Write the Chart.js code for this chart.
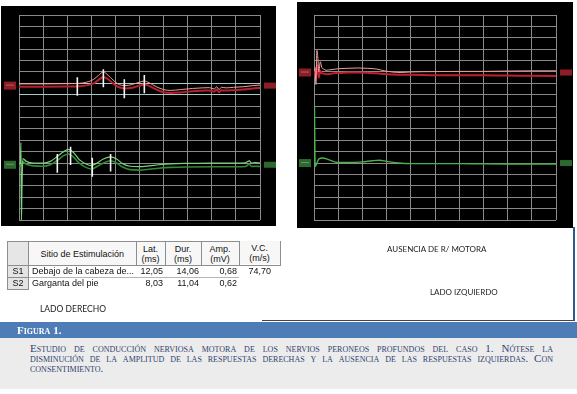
<!DOCTYPE html>
<html lang="es">
<head>
    <meta charset="UTF-8">
    <title>Figura 1 - conducción nerviosa motora</title>
    <script src="https://cdn.jsdelivr.net/npm/chart.js"></script>
    <style>
        body { margin: 0; width: 577px; height: 394px; position: relative; overflow: hidden; background: #fff; font-family: "Liberation Sans", Arial, sans-serif; }
        .scope { position: absolute; background: #000; }
        .scope canvas { background: #000; }
        .lbl { position: absolute; font-family: Lato, "Open Sans", sans-serif; font-size: 8.5px; color: #222; white-space: nowrap; }

        /* tabla de estimulacion */
        #tbl { position: absolute; left: 7px; top: 241px; border-collapse: collapse; font-size: 9px; color: #111; table-layout: fixed; }
        #tbl th { font-weight: normal; background: #f7f7f7; border: 1px solid #8e8e8e; height: 23px; line-height: 10px; padding: 0; text-align: center; }
        #tbl th.corner { background: #e6e6e6; }
        #tbl th.vc { border-top: 1px solid #8e8e8e; position: relative; top: -1px; }
        #tbl td { height: 11px; line-height: 11px; padding: 0 2px; text-align: right; white-space: nowrap; overflow: hidden; }
        #tbl td.sx { background: #e4e4e4; border: 1px solid #8e8e8e; text-align: center; padding: 0; }
        #tbl td.site { text-align: left; padding-left: 3px; }
        #tbl tr.r1 td.ln { border-bottom: 1px solid #b5b5b5; }

        #box { position: absolute; left: 262px; top: 227px; width: 311px; height: 93px; border-right: 2px solid #2c5a8e; border-bottom: 1px solid #444; }
        #capBar { position: absolute; left: 0; top: 322px; width: 577px; height: 16px; background: #4d7cb6; }
        #capBar span { position: absolute; left: 17px; top: 0; line-height: 16px; font-family: "Liberation Serif", serif; font-weight: bold; font-variant: small-caps; font-size: 11px; color: #fff; }
        #capBody { position: absolute; left: 0; top: 338px; width: 577px; height: 51px; background: #ececec; }
        #capBody div { position: absolute; left: 30px; width: 523px; font-family: "Liberation Serif", serif; font-variant: small-caps; font-size: 11px; line-height: 10px; color: #2f4370; white-space: nowrap; }
        #capBody div.j { text-align: justify; text-align-last: justify; white-space: normal; }
    </style>
</head>
<body>

    <!-- Oscilloscope panels -->
    <div class="scope" style="left:1px; top:6px; width:275px; height:220px;"><canvas id="rightSide"></canvas></div>
    <div class="scope" style="left:297px; top:2px; width:276px; height:226px;"><canvas id="leftSide"></canvas></div>

    <div id="box"></div>

    <!-- Stimulation table -->
    <table id="tbl">
        <colgroup>
            <col style="width:21px"><col style="width:106px"><col style="width:29px"><col style="width:36px"><col style="width:38px"><col style="width:41px">
        </colgroup>
        <tr>
            <th class="corner"></th>
            <th>Sitio de Estimulación</th>
            <th>Lat.<br>(ms)</th>
            <th>Dur.<br>(ms)</th>
            <th>Amp.<br>(mV)</th>
            <th class="vc">V.C.<br>(m/s)</th>
        </tr>
        <tr class="r1">
            <td class="sx">S1</td>
            <td class="site ln">Debajo de la cabeza de...</td>
            <td class="ln">12,05</td>
            <td class="ln">14,06</td>
            <td class="ln">0,68</td>
            <td style="padding-right:9px; line-height:9px;">74,70</td>
        </tr>
        <tr>
            <td class="sx">S2</td>
            <td class="site">Garganta del pie</td>
            <td>8,03</td>
            <td>11,04</td>
            <td>0,62</td>
            <td></td>
        </tr>
    </table>

    <div class="lbl" style="left:40px; top:304px;">LADO DERECHO</div>
    <div class="lbl" style="left:387px; top:244px; font-size:8px;">AUSENCIA DE R/ MOTORA</div>
    <div class="lbl" style="left:430px; top:287px; font-size:8px;">LADO IZQUIERDO</div>

    <!-- Caption -->
    <div id="capBar"><span>Figura 1.</span></div>
    <div id="capBody">
        <div class="j" style="top:5px;">Estudio de conducción nerviosa motora de los nervios peroneos profundos del caso 1. Nótese la</div>
        <div class="j" style="top:15px;">disminución de la amplitud de las respuestas derechas y la ausencia de las respuestas izquierdas. Con</div>
        <div style="top:25px;">consentimiento.</div>
    </div>

    <script>
        // grid: 10 horizontal divisions, 18 vertical divisions
        const xDivs = 10;
        const yDivs = 18;

        // ---- Right side (lado derecho) traces ----
        const derRedX = [0, 1, 2, 2.5, 2.8, 3.1, 3.3, 3.5, 3.7, 3.9, 4.1, 4.4, 4.7, 5.0, 5.2, 5.4, 5.7, 6.0, 6.3, 6.7, 7.2, 7.6, 7.9, 8.1, 8.2, 8.3, 8.4, 8.6, 8.9, 9.3, 9.7, 10];
        const derRedA = [11.95, 11.95, 11.97, 12.0, 12.1, 12.35, 12.7, 13.0, 12.7, 12.3, 11.95, 11.8, 11.9, 12.1, 12.2, 12.05, 11.7, 11.45, 11.38, 11.45, 11.55, 11.6, 11.62, 11.5, 11.7, 11.45, 11.65, 11.6, 11.65, 11.7, 11.8, 11.85];
        const derRedB = [11.7, 11.7, 11.72, 11.75, 11.82, 12.0, 12.3, 12.55, 12.35, 12.0, 11.7, 11.55, 11.62, 11.8, 11.9, 11.78, 11.45, 11.22, 11.15, 11.2, 11.3, 11.35, 11.38, 11.28, 11.45, 11.22, 11.4, 11.36, 11.4, 11.45, 11.55, 11.6];

        const derGrnX = [0, 0.06, 0.08, 0.1, 0.12, 0.16, 0.3, 0.6, 1.0, 1.3, 1.6, 1.85, 2.05, 2.25, 2.5, 2.8, 3.0, 3.2, 3.5, 3.8, 4.05, 4.3, 4.6, 5.0, 5.4, 5.8, 6.3, 7.0, 8.0, 9.0, 9.4, 9.55, 9.65, 9.8, 10];
        const derGrnA = [4.95, 4.95, 6.8, 0, 2.5, 5.4, 5.15, 5.0, 5.0, 5.15, 5.6, 6.0, 6.2, 5.95, 5.3, 4.9, 4.78, 4.95, 5.35, 5.55, 5.35, 4.95, 4.72, 4.68, 4.75, 4.85, 4.93, 4.97, 5.0, 5.0, 5.02, 5.2, 5.0, 5.05, 5.0];
        const derGrnB = [4.75, 4.75, 4.75, 4.75, 4.9, 5.1, 4.9, 4.75, 4.72, 4.85, 5.25, 5.65, 5.8, 5.55, 5.0, 4.6, 4.48, 4.65, 5.0, 5.2, 5.0, 4.65, 4.42, 4.38, 4.45, 4.55, 4.62, 4.66, 4.68, 4.68, 4.7, 4.9, 4.7, 4.72, 4.7];

        // cursors (white marks): position, top, bottom
        const derRedMarkX = [2.42, 3.50, 4.37, 5.20];
        const derRedMarkTop = [12.53, 13.23, 12.35, 12.73];
        const derRedMarkBot = [10.91, 11.65, 10.69, 11.12];
        const derGrnMarkX = [1.59, 2.14, 3.04, 3.80];
        const derGrnMarkTop = [5.80, 6.44, 5.47, 5.80];
        const derGrnMarkBot = [4.15, 4.83, 3.80, 4.25];

        // ---- Left side (lado izquierdo) traces ----
        const izqRedX = [0, 0.04, 0.08, 0.12, 0.16, 0.2, 0.26, 0.32, 0.4, 0.5, 0.7, 1.0, 1.4, 1.8, 2.2, 2.6, 2.9, 3.2, 3.6, 4.0, 5.0, 6.0, 7.0, 8.0, 9.0, 10];
        const izqRedA = [13.1, 13.4, 11.9, 14.9, 14.2, 13.0, 13.9, 13.4, 13.25, 13.15, 13.2, 13.28, 13.32, 13.35, 13.32, 13.25, 13.1, 13.0, 12.95, 13.0, 13.03, 13.05, 13.05, 13.08, 13.1, 13.1];
        const izqRedB = [12.8, 13.0, 12.3, 13.6, 13.3, 12.5, 13.1, 12.9, 12.85, 12.8, 12.85, 12.9, 12.95, 12.95, 12.92, 12.88, 12.82, 12.78, 12.75, 12.75, 12.72, 12.72, 12.7, 12.68, 12.66, 12.64];

        const izqGrnX = [0, 0.02, 0.04, 0.06, 0.1, 0.2, 0.35, 0.6, 1.0, 1.5, 2.0, 2.4, 2.7, 3.0, 3.5, 4.0, 5.0, 6.0, 7.0, 8.0, 9.0, 10];
        const izqGrnA = [5.0, 9.95, 5.2, 4.7, 4.9, 5.35, 5.45, 5.3, 5.05, 5.05, 5.1, 5.2, 5.25, 5.15, 5.0, 4.95, 4.95, 4.95, 4.93, 4.92, 4.92, 4.92];

        // small channel tags beside each trace
        const derTagY = [11.8, 4.85];
        const izqTagY = [12.95, 5.0];
        const tagColors = ['rgba(190,40,50,0.75)', 'rgba(60,140,60,0.75)'];

        function toPoints(xs, ys) {
            return xs.map((x, i) => ({ x: x, y: ys[i] }));
        }

        function trace(xs, ys, color, width) {
            return {
                data: toPoints(xs, ys),
                borderColor: color,
                borderWidth: width,
                pointRadius: 0,
                cubicInterpolationMode: 'monotone'
            };
        }

        function marks(xs, tops, bots) {
            return xs.map((x, i) => ({
                data: [{ x: x, y: tops[i] }, { x: x, y: bots[i] }],
                borderColor: '#f4f4f4',
                borderWidth: 1.6,
                pointRadius: 0
            }));
        }

        // draws the little coloured tags left and right of the grid
        const tagPlugin = {
            id: 'tags',
            afterDraw(chart, args, opts) {
                const { ctx, chartArea, scales } = chart;
                (opts.values || []).forEach((v, i) => {
                    let y = scales.y.getPixelForValue(v);
                    ctx.save();
                    ctx.fillStyle = tagColors[i];
                    ctx.fillRect(chartArea.left - 15, y - 4, 12, 8);
                    ctx.fillRect(chartArea.right + 4, y - 3, 12, 6);
                    ctx.fillStyle = 'rgba(255,255,255,0.3)';
                    ctx.fillRect(chartArea.left - 13, y - 1, 8, 1);
                    ctx.restore();
                });
            }
        };

        function makeScope(id, datasets, padding, tagValues, tinted) {
            return new Chart(document.getElementById(id), {
                type: 'line',
                data: { datasets: datasets },
                plugins: [tagPlugin],
                options: {
                    responsive: true,
                    maintainAspectRatio: false,
                    animation: false,
                    events: [],
                    layout: { padding: padding },
                    scales: {
                        x: {
                            type: 'linear', min: 0, max: xDivs,
                            ticks: { display: false, stepSize: 1 },
                            grid: { color: '#8a8a8a', lineWidth: 1, drawTicks: false },
                            border: { display: false }
                        },
                        y: {
                            type: 'linear', min: 0, max: yDivs,
                            ticks: { display: false, stepSize: 1 },
                            grid: {
                                color: c => (tinted.includes(c.tick.value) ? '#a6caca' : '#8a8a8a'),
                                lineWidth: 1, drawTicks: false
                            },
                            border: { display: false }
                        }
                    },
                    plugins: {
                        legend: { display: false },
                        tooltip: { enabled: false },
                        tags: { values: tagValues }
                    }
                }
            });
        }

        // Lado derecho
        makeScope('rightSide', [
            ...marks(derRedMarkX, derRedMarkTop, derRedMarkBot),
            ...marks(derGrnMarkX, derGrnMarkTop, derGrnMarkBot),
            trace(derRedX, derRedA, '#f09a9a', 1),
            trace(derRedX, derRedB, '#b3202e', 2),
            trace(derGrnX, derGrnA, '#7fd07f', 1.2),
            trace(derGrnX, derGrnB, '#2f8a35', 1.6)
        ], { left: 18, right: 16, top: 9, bottom: 6 }, derTagY, [11, 12]);

        // Lado izquierdo
        makeScope('leftSide', [
            trace(izqRedX, izqRedA, '#f09a9a', 1),
            trace(izqRedX, izqRedB, '#c0202e', 2),
            trace(izqGrnX, izqGrnA, '#4cb04c', 1.4)
        ], { left: 17, right: 17, top: 13, bottom: 8 }, izqTagY, []);
    </script>

</body>
</html>
